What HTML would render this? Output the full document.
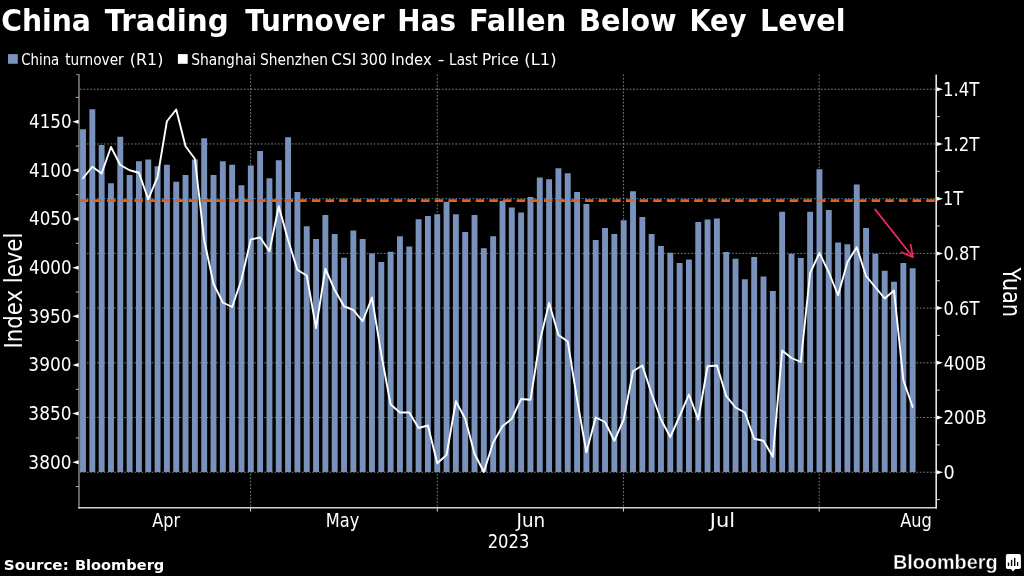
<!DOCTYPE html>
<html lang="en"><head><meta charset="utf-8"><title>China Trading Turnover Has Fallen Below Key Level</title>
<style>html,body{margin:0;padding:0;background:#000;overflow:hidden}svg{display:block}text{font-family:'DejaVu Sans Condensed','Liberation Sans',sans-serif;fill:#fff}.b{font-weight:bold}</style></head><body>
<svg width="1024" height="576" viewBox="0 0 1024 576">
<rect width="1024" height="576" fill="#000"/>
<text class="b" font-size="30.8" y="31.20"><tspan x="1.16" textLength="89.73" lengthAdjust="spacingAndGlyphs">China</tspan> <tspan x="104.89" textLength="123.81" lengthAdjust="spacingAndGlyphs">Trading</tspan> <tspan x="245.37" textLength="139.21" lengthAdjust="spacingAndGlyphs">Turnover</tspan> <tspan x="397.39" textLength="58.56" lengthAdjust="spacingAndGlyphs">Has</tspan> <tspan x="468.97" textLength="97.29" lengthAdjust="spacingAndGlyphs">Fallen</tspan> <tspan x="578.95" textLength="97.81" lengthAdjust="spacingAndGlyphs">Below</tspan> <tspan x="689.53" textLength="56.90" lengthAdjust="spacingAndGlyphs">Key</tspan> <tspan x="760.04" textLength="85.43" lengthAdjust="spacingAndGlyphs">Level</tspan></text>
<text font-size="15.4" y="65.00"><tspan x="21.25" textLength="38.02" lengthAdjust="spacingAndGlyphs">China</tspan> <tspan x="65.27" textLength="58.46" lengthAdjust="spacingAndGlyphs">turnover</tspan> <tspan x="129.83" textLength="33.53" lengthAdjust="spacingAndGlyphs">(R1)</tspan></text>
<text font-size="15.4" y="65.00"><tspan x="191.31" textLength="64.71" lengthAdjust="spacingAndGlyphs">Shanghai</tspan> <tspan x="260.10" textLength="67.76" lengthAdjust="spacingAndGlyphs">Shenzhen</tspan> <tspan x="331.29" textLength="24.87" lengthAdjust="spacingAndGlyphs">CSI</tspan> <tspan x="359.74" textLength="27.36" lengthAdjust="spacingAndGlyphs">300</tspan> <tspan x="390.91" textLength="40.83" lengthAdjust="spacingAndGlyphs">Index</tspan> <tspan x="437.65" textLength="6.69" lengthAdjust="spacingAndGlyphs">-</tspan> <tspan x="449.12" textLength="28.37" lengthAdjust="spacingAndGlyphs">Last</tspan> <tspan x="482.00" textLength="36.88" lengthAdjust="spacingAndGlyphs">Price</tspan> <tspan x="524.39" textLength="32.15" lengthAdjust="spacingAndGlyphs">(L1)</tspan></text>
<text font-size="18.8" y="128.10" x="29.06" textLength="42.53" lengthAdjust="spacingAndGlyphs">4150</text>
<text font-size="18.8" y="176.75" x="29.06" textLength="42.53" lengthAdjust="spacingAndGlyphs">4100</text>
<text font-size="18.8" y="225.40" x="29.06" textLength="42.53" lengthAdjust="spacingAndGlyphs">4050</text>
<text font-size="18.8" y="274.05" x="29.06" textLength="42.53" lengthAdjust="spacingAndGlyphs">4000</text>
<text font-size="18.8" y="322.70" x="28.39" textLength="43.10" lengthAdjust="spacingAndGlyphs">3950</text>
<text font-size="18.8" y="371.35" x="28.39" textLength="43.10" lengthAdjust="spacingAndGlyphs">3900</text>
<text font-size="18.8" y="420.00" x="28.39" textLength="43.10" lengthAdjust="spacingAndGlyphs">3850</text>
<text font-size="18.8" y="468.65" x="28.39" textLength="43.10" lengthAdjust="spacingAndGlyphs">3800</text>
<text font-size="18.8" y="95.95" x="942.94" textLength="36.48" lengthAdjust="spacingAndGlyphs">1.4T</text>
<text font-size="18.8" y="150.66" x="942.94" textLength="36.48" lengthAdjust="spacingAndGlyphs">1.2T</text>
<text font-size="18.8" y="205.37" x="942.94" textLength="20.30" lengthAdjust="spacingAndGlyphs">1T</text>
<text font-size="18.8" y="260.08" x="943.53" textLength="35.93" lengthAdjust="spacingAndGlyphs">0.8T</text>
<text font-size="18.8" y="314.79" x="943.53" textLength="35.93" lengthAdjust="spacingAndGlyphs">0.6T</text>
<text font-size="18.8" y="369.50" x="943.76" textLength="42.63" lengthAdjust="spacingAndGlyphs">400B</text>
<text font-size="18.8" y="424.21" x="943.46" textLength="43.11" lengthAdjust="spacingAndGlyphs">200B</text>
<text font-size="18.8" y="478.92" x="943.55" textLength="11.21" lengthAdjust="spacingAndGlyphs">0</text>
<text font-size="18.8" y="526.70" x="152.20" textLength="27.84" lengthAdjust="spacingAndGlyphs">Apr</text>
<text font-size="18.8" y="526.70" x="325.86" textLength="33.48" lengthAdjust="spacingAndGlyphs">May</text>
<text font-size="18.8" y="526.70" x="516.59" textLength="28.64" lengthAdjust="spacingAndGlyphs">Jun</text>
<text font-size="18.8" y="526.70" x="709.82" textLength="25.24" lengthAdjust="spacingAndGlyphs">Jul</text>
<text font-size="18.8" y="526.70" x="900.23" textLength="31.63" lengthAdjust="spacingAndGlyphs">Aug</text>
<text font-size="18.8" y="547.50" x="487.70" textLength="41.67" lengthAdjust="spacingAndGlyphs">2023</text>
<text class="b" font-size="14.6" y="570.30"><tspan x="3.89" textLength="64.82" lengthAdjust="spacingAndGlyphs">Source:</tspan> <tspan x="74.99" textLength="89.31" lengthAdjust="spacingAndGlyphs">Bloomberg</tspan></text>
<text class="b" style="font-family:'Liberation Sans',sans-serif" stroke="#000" stroke-width="0.35" font-size="20" y="568.80" x="892.90" textLength="104.72" lengthAdjust="spacingAndGlyphs">Bloomberg</text>
<rect x="8" y="54.1" width="9.8" height="9.7" fill="#7892bc"/>
<rect x="177.9" y="54.1" width="9.8" height="9.7" fill="#fff"/>
<g stroke="#8a8a8a" stroke-width="0.9" stroke-dasharray="1.707 1.707" fill="none"><line x1="80" x2="935.5" y1="89.25" y2="89.25"/><line x1="80" x2="935.5" y1="143.96" y2="143.96"/><line x1="80" x2="935.5" y1="198.67" y2="198.67"/><line x1="80" x2="935.5" y1="253.38" y2="253.38"/><line x1="80" x2="935.5" y1="308.09" y2="308.09"/><line x1="80" x2="935.5" y1="362.80" y2="362.80"/><line x1="80" x2="935.5" y1="417.51" y2="417.51"/><line x1="80" x2="935.5" y1="472.22" y2="472.22"/><line x1="250.60" x2="250.60" y1="74.5" y2="507"/><line x1="437.30" x2="437.30" y1="74.5" y2="507"/><line x1="623.40" x2="623.40" y1="74.5" y2="507"/><line x1="819.20" x2="819.20" y1="74.5" y2="507"/></g>
<g fill="#7892bc"><rect x="80.05" y="129.25" width="5.90" height="342.75"/><rect x="89.37" y="109.25" width="5.90" height="362.75"/><rect x="98.69" y="145.00" width="5.90" height="327.00"/><rect x="108.02" y="183.25" width="5.90" height="288.75"/><rect x="117.34" y="136.75" width="5.90" height="335.25"/><rect x="126.66" y="175.00" width="5.90" height="297.00"/><rect x="135.98" y="161.25" width="5.90" height="310.75"/><rect x="145.30" y="159.50" width="5.90" height="312.50"/><rect x="154.63" y="166.25" width="5.90" height="305.75"/><rect x="163.95" y="164.75" width="5.90" height="307.25"/><rect x="173.27" y="181.75" width="5.90" height="290.25"/><rect x="182.59" y="175.00" width="5.90" height="297.00"/><rect x="191.91" y="159.50" width="5.90" height="312.50"/><rect x="201.24" y="138.25" width="5.90" height="333.75"/><rect x="210.56" y="175.00" width="5.90" height="297.00"/><rect x="219.88" y="161.25" width="5.90" height="310.75"/><rect x="229.20" y="164.75" width="5.90" height="307.25"/><rect x="238.52" y="185.25" width="5.90" height="286.75"/><rect x="247.85" y="165.50" width="5.90" height="306.50"/><rect x="257.17" y="151.00" width="5.90" height="321.00"/><rect x="266.49" y="178.25" width="5.90" height="293.75"/><rect x="275.81" y="160.25" width="5.90" height="311.75"/><rect x="285.13" y="137.25" width="5.90" height="334.75"/><rect x="294.46" y="192.00" width="5.90" height="280.00"/><rect x="303.78" y="226.25" width="5.90" height="245.75"/><rect x="313.10" y="239.00" width="5.90" height="233.00"/><rect x="322.42" y="215.00" width="5.90" height="257.00"/><rect x="331.74" y="234.00" width="5.90" height="238.00"/><rect x="341.07" y="257.75" width="5.90" height="214.25"/><rect x="350.39" y="230.50" width="5.90" height="241.50"/><rect x="359.71" y="239.00" width="5.90" height="233.00"/><rect x="369.03" y="253.50" width="5.90" height="218.50"/><rect x="378.35" y="262.00" width="5.90" height="210.00"/><rect x="387.68" y="251.75" width="5.90" height="220.25"/><rect x="397.00" y="236.25" width="5.90" height="235.75"/><rect x="406.32" y="246.50" width="5.90" height="225.50"/><rect x="415.64" y="219.25" width="5.90" height="252.75"/><rect x="424.96" y="216.00" width="5.90" height="256.00"/><rect x="434.29" y="214.25" width="5.90" height="257.75"/><rect x="443.61" y="201.75" width="5.90" height="270.25"/><rect x="452.93" y="214.25" width="5.90" height="257.75"/><rect x="462.25" y="232.00" width="5.90" height="240.00"/><rect x="471.57" y="215.00" width="5.90" height="257.00"/><rect x="480.90" y="248.25" width="5.90" height="223.75"/><rect x="490.22" y="236.25" width="5.90" height="235.75"/><rect x="499.54" y="200.75" width="5.90" height="271.25"/><rect x="508.86" y="207.50" width="5.90" height="264.50"/><rect x="518.18" y="212.50" width="5.90" height="259.50"/><rect x="527.51" y="197.00" width="5.90" height="275.00"/><rect x="536.83" y="177.50" width="5.90" height="294.50"/><rect x="546.15" y="179.25" width="5.90" height="292.75"/><rect x="555.47" y="168.25" width="5.90" height="303.75"/><rect x="564.79" y="173.25" width="5.90" height="298.75"/><rect x="574.12" y="192.00" width="5.90" height="280.00"/><rect x="583.44" y="204.00" width="5.90" height="268.00"/><rect x="592.76" y="240.00" width="5.90" height="232.00"/><rect x="602.08" y="228.00" width="5.90" height="244.00"/><rect x="611.40" y="234.00" width="5.90" height="238.00"/><rect x="620.73" y="220.25" width="5.90" height="251.75"/><rect x="630.05" y="191.25" width="5.90" height="280.75"/><rect x="639.37" y="217.00" width="5.90" height="255.00"/><rect x="648.69" y="234.00" width="5.90" height="238.00"/><rect x="658.01" y="246.00" width="5.90" height="226.00"/><rect x="667.34" y="252.75" width="5.90" height="219.25"/><rect x="676.66" y="263.00" width="5.90" height="209.00"/><rect x="685.98" y="259.50" width="5.90" height="212.50"/><rect x="695.30" y="222.00" width="5.90" height="250.00"/><rect x="704.62" y="219.50" width="5.90" height="252.50"/><rect x="713.95" y="218.50" width="5.90" height="253.50"/><rect x="723.27" y="252.00" width="5.90" height="220.00"/><rect x="732.59" y="258.75" width="5.90" height="213.25"/><rect x="741.91" y="279.25" width="5.90" height="192.75"/><rect x="751.23" y="257.00" width="5.90" height="215.00"/><rect x="760.56" y="276.50" width="5.90" height="195.50"/><rect x="769.88" y="291.00" width="5.90" height="181.00"/><rect x="779.20" y="211.75" width="5.90" height="260.25"/><rect x="788.52" y="253.75" width="5.90" height="218.25"/><rect x="797.84" y="258.00" width="5.90" height="214.00"/><rect x="807.17" y="211.75" width="5.90" height="260.25"/><rect x="816.49" y="169.25" width="5.90" height="302.75"/><rect x="825.81" y="210.00" width="5.90" height="262.00"/><rect x="835.13" y="242.50" width="5.90" height="229.50"/><rect x="844.45" y="244.25" width="5.90" height="227.75"/><rect x="853.78" y="184.50" width="5.90" height="287.50"/><rect x="863.10" y="228.00" width="5.90" height="244.00"/><rect x="872.42" y="253.75" width="5.90" height="218.25"/><rect x="881.74" y="270.75" width="5.90" height="201.25"/><rect x="891.06" y="281.75" width="5.90" height="190.25"/><rect x="900.39" y="263.00" width="5.90" height="209.00"/><rect x="909.71" y="268.25" width="5.90" height="203.75"/></g>
<line x1="79.75" x2="935.4" y1="200.6" y2="200.6" stroke="#e4621f" stroke-width="2.7" stroke-dasharray="8.5 5.153"/>
<polyline points="83.00,178.25 92.32,166.75 101.64,173.50 110.97,147.00 120.29,165.00 129.61,170.25 138.93,172.75 148.25,199.30 157.58,176.80 166.90,121.25 176.22,109.50 185.54,146.25 194.86,158.75 204.19,240.00 213.51,283.75 222.83,302.50 232.15,307.00 241.47,279.50 250.80,239.50 260.12,237.50 269.44,251.25 278.76,206.25 288.08,240.00 297.41,270.00 306.73,275.50 316.05,328.00 325.37,268.75 334.69,290.00 344.02,306.25 353.34,310.00 362.66,321.25 371.98,297.50 381.30,354.50 390.63,404.50 399.95,412.50 409.27,412.50 418.59,428.00 427.91,425.50 437.24,463.25 446.56,455.00 455.88,401.25 465.20,418.75 474.52,453.75 483.85,472.00 493.17,442.50 502.49,426.25 511.81,418.75 521.13,399.00 530.46,399.75 539.78,341.50 549.10,303.00 558.42,335.00 567.74,341.50 577.07,399.50 586.39,452.25 595.71,417.50 605.03,422.00 614.35,440.75 623.68,419.50 633.00,371.25 642.32,365.50 651.64,393.75 660.96,419.50 670.29,437.00 679.61,416.25 688.93,394.50 698.25,419.50 707.57,366.25 716.90,365.50 726.22,396.00 735.54,407.50 744.86,412.50 754.18,438.75 763.51,440.75 772.83,456.75 782.15,350.50 791.47,358.00 800.79,362.00 810.12,273.00 819.44,253.00 828.76,272.25 838.08,295.25 847.40,262.25 856.73,247.25 866.05,276.00 875.37,287.25 884.69,298.50 894.01,290.50 903.34,380.00 912.66,407.00" fill="none" stroke="#fff" stroke-width="1.9" stroke-linejoin="round" stroke-linecap="round"/>
<g stroke="#f0285a" stroke-width="1.7" fill="none" stroke-linecap="round" stroke-linejoin="round"><line x1="875.1" y1="209.4" x2="912.6" y2="256.8"/><polyline points="910.7,244.6 912.9,257.2 901.4,252.2"/></g>
<g fill="none"><line x1="79" x2="79" y1="74.2" y2="508.5" stroke="#909090" stroke-width="1.35"/><line x1="76.2" x2="79" y1="74.7" y2="74.7" stroke="#969696" stroke-width="1"/><line x1="78.2" x2="937" y1="507.8" y2="507.8" stroke="#d4d4d4" stroke-width="1.5"/><line x1="936.2" x2="936.2" y1="74.6" y2="508.5" stroke="#e6e6e6" stroke-width="1.6"/></g>
<g stroke="#d8d8d8" stroke-width="1"><line x1="250.60" x2="250.60" y1="508" y2="511.6"/><line x1="437.30" x2="437.30" y1="508" y2="511.6"/><line x1="623.40" x2="623.40" y1="508" y2="511.6"/><line x1="819.20" x2="819.20" y1="508" y2="511.6"/></g>
<g fill="#fff" stroke="none"><path d="M72.3 121.70L78.6 119.70L78.6 123.70Z"/><path d="M72.3 170.35L78.6 168.35L78.6 172.35Z"/><path d="M72.3 219.00L78.6 217.00L78.6 221.00Z"/><path d="M72.3 267.65L78.6 265.65L78.6 269.65Z"/><path d="M72.3 316.30L78.6 314.30L78.6 318.30Z"/><path d="M72.3 364.95L78.6 362.95L78.6 366.95Z"/><path d="M72.3 413.60L78.6 411.60L78.6 415.60Z"/><path d="M72.3 462.25L78.6 460.25L78.6 464.25Z"/></g><g stroke="#b4b4b4" stroke-width="1"><line x1="75.8" x2="79" y1="97.38" y2="97.38"/><line x1="75.8" x2="79" y1="146.03" y2="146.03"/><line x1="75.8" x2="79" y1="194.68" y2="194.68"/><line x1="75.8" x2="79" y1="243.32" y2="243.32"/><line x1="75.8" x2="79" y1="291.98" y2="291.98"/><line x1="75.8" x2="79" y1="340.62" y2="340.62"/><line x1="75.8" x2="79" y1="389.27" y2="389.27"/><line x1="75.8" x2="79" y1="437.92" y2="437.92"/><line x1="75.8" x2="79" y1="486.57" y2="486.57"/></g>
<g fill="#fff" stroke="none"><path d="M943 89.25L936.8 87.25L936.8 91.25Z"/><path d="M943 143.96L936.8 141.96L936.8 145.96Z"/><path d="M943 198.67L936.8 196.67L936.8 200.67Z"/><path d="M943 253.38L936.8 251.38L936.8 255.38Z"/><path d="M943 308.09L936.8 306.09L936.8 310.09Z"/><path d="M943 362.80L936.8 360.80L936.8 364.80Z"/><path d="M943 417.51L936.8 415.51L936.8 419.51Z"/><path d="M943 472.22L936.8 470.22L936.8 474.22Z"/></g><g stroke="#d8d8d8" stroke-width="1"><line x1="936.5" x2="939.8" y1="116.61" y2="116.61"/><line x1="936.5" x2="939.8" y1="171.31" y2="171.31"/><line x1="936.5" x2="939.8" y1="226.03" y2="226.03"/><line x1="936.5" x2="939.8" y1="280.74" y2="280.74"/><line x1="936.5" x2="939.8" y1="335.44" y2="335.44"/><line x1="936.5" x2="939.8" y1="390.16" y2="390.16"/><line x1="936.5" x2="939.8" y1="444.87" y2="444.87"/><line x1="936.5" x2="939.8" y1="499.57" y2="499.57"/></g>
<text font-size="23.9" transform="translate(21.8 348.50) rotate(-90)" textLength="115.80" lengthAdjust="spacingAndGlyphs">Index level</text>
<text font-size="23.9" transform="translate(1002.7 267.50) rotate(90)" textLength="49.70" lengthAdjust="spacingAndGlyphs">Yuan</text>
<path d="M1007.6 554h11.6a1.7 1.7 0 0 1 1.7 1.7v11.6a1.7 1.7 0 0 1-1.7 1.7h-3.9l-2.2 2.5l-2.2-2.5h-3.3a1.7 1.7 0 0 1-1.7-1.7v-11.6a1.7 1.7 0 0 1 1.7-1.7z" fill="#fff"/>
<g fill="#000"><rect x="1007.8" y="562.6" width="1.4" height="3.4"/><rect x="1010.9" y="559.8" width="1.4" height="6.2"/><rect x="1014" y="557.9" width="1.4" height="8.1"/><rect x="1017" y="562" width="1.2" height="4"/></g>
</svg></body></html>
